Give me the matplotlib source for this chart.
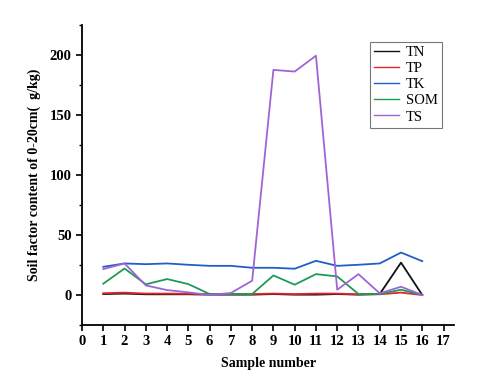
import matplotlib
matplotlib.use("Agg")
import matplotlib.pyplot as plt
from matplotlib.ticker import MultipleLocator

plt.rcParams['font.family'] = ['Liberation Serif', 'DejaVu Serif']

samples = list(range(1, 17))
tn = [0.8, 1.2, 0.6, 0.6, 0.6, 0.3, 0.3, 0.3, 0.8, 0.3, 0.3, 0.8, 0.3, 0.8, 27.0, 0.0]
tp = [1.5, 2.0, 1.2, 1.2, 1.0, 0.8, 0.8, 0.8, 1.2, 0.8, 1.2, 1.2, 0.6, 0.6, 2.0, 0.0]
tk = [23.5, 26.3, 25.7, 26.3, 25.2, 24.3, 24.3, 22.7, 22.7, 21.9, 28.5, 24.3, 25.2, 26.3, 35.4, 28.2]
som = [9.4, 22.1, 8.9, 13.3, 9.1, 0.8, 0.8, 0.8, 16.3, 8.6, 17.4, 15.5, 0.8, 0.8, 4.4, 0.0]
ts = [21.6, 26.3, 8.0, 4.1, 2.2, 0.0, 1.7, 11.9, 187.6, 186.2, 199.4, 4.4, 17.4, 1.4, 6.9, 0.0]

fig = plt.figure(figsize=(4.98, 3.83), dpi=100)
ax = fig.add_axes([0.1647, 0.1514, 0.7473, 0.7833])

ax.plot(samples, tn, color='#111111', lw=1.3, label='TN')
ax.plot(samples, tp, color='#e0282a', lw=1.3, label='TP')
ax.plot(samples, tk, color='#1f5fc8', lw=1.3, label='TK')
ax.plot(samples, som, color='#1f9a55', lw=1.3, label='SOM')
ax.plot(samples, ts, color='#a064d8', lw=1.3, label='TS')

ax.set_xlim(0, 17.5)
ax.set_ylim(-25, 225)
ax.xaxis.set_major_locator(MultipleLocator(1))
ax.yaxis.set_major_locator(MultipleLocator(50))
ax.yaxis.set_minor_locator(MultipleLocator(25))
ax.set_yticks([0, 50, 100, 150, 200])
ax.spines['top'].set_visible(False)
ax.spines['right'].set_visible(False)
ax.spines['left'].set_linewidth(1.3)
ax.spines['bottom'].set_linewidth(1.3)
ax.tick_params(which='major', direction='out', length=4, width=1.2, labelsize=10.5)
ax.tick_params(which='minor', direction='out', length=2.5, width=1.0)
for lab in ax.get_xticklabels() + ax.get_yticklabels():
    lab.set_fontweight('bold')

ax.set_xlabel('Sample number', fontsize=10, fontweight='bold', labelpad=6)
ax.set_ylabel('Soil factor content of 0-20cm(  g/kg)', fontsize=10, fontweight='bold', labelpad=6)

leg = ax.legend(loc='upper right', bbox_to_anchor=(0.968, 0.945), fontsize=10.5, frameon=True,
                fancybox=False, edgecolor='#555555', handlelength=1.7, handletextpad=0.5,
                labelspacing=0.2, borderpad=0.3, borderaxespad=0)
leg.get_frame().set_linewidth(0.8)
for line in leg.get_lines():
    line.set_linewidth(1.0)

fig.savefig('out.png', dpi=100)
